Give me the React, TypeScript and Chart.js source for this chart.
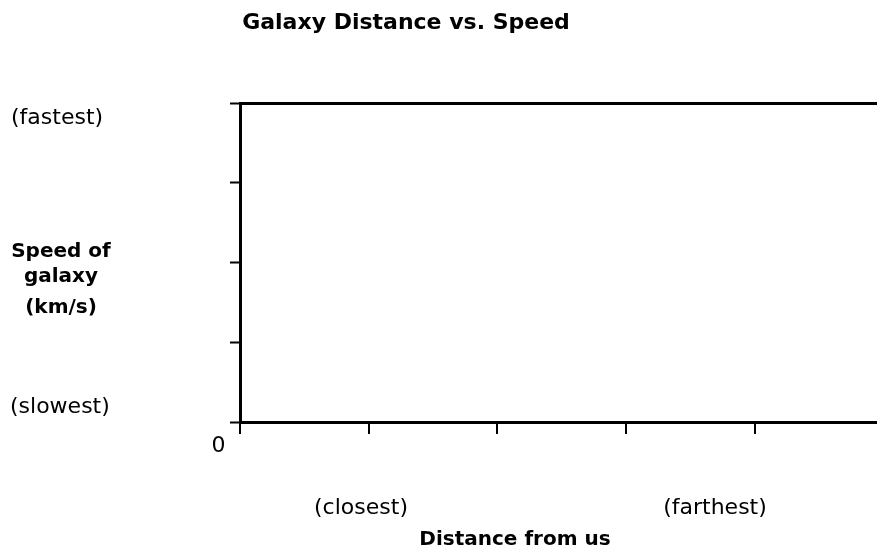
import React, { useEffect, useRef } from "react";
import { Chart, registerables } from "chart.js";

Chart.register(...registerables);

const chartTitle = "Galaxy Distance vs. Speed";
const xAxisTitle = "Distance from us";
const yAxisTitleLines = ["Speed of", "galaxy", "(km/s)"];
const xEndLabels = ["(closest)", "(farthest)"];
const yEndLabels = ["(slowest)", "(fastest)"];
const originLabel = "0";
const xTickValues = [0, 1, 2, 3, 4];
const yTickValues = [0, 1, 2, 3, 4];
const xRange = [0, 4.95];
const yRange = [0, 4];
const galaxyPoints: { x: number; y: number }[] = [];

const FONT = "'DejaVu Sans', sans-serif";

const textPlugin = {
  id: "galaxyText",
  afterDraw(chart: any) {
    const { ctx, chartArea } = chart;
    ctx.save();
    ctx.fillStyle = "#000";
    ctx.textBaseline = "alphabetic";

    ctx.font = `bold 22px ${FONT}`;
    ctx.textAlign = "center";
    ctx.fillText(chartTitle, 406, 29);

    ctx.font = `22px ${FONT}`;
    ctx.textAlign = "left";
    ctx.fillText(yEndLabels[1], 11, chartArea.top + 21);
    ctx.fillText(yEndLabels[0], 10, chartArea.bottom - 9);

    ctx.font = `bold 20px ${FONT}`;
    ctx.textAlign = "center";
    const yBase = [257, 282, 313];
    yAxisTitleLines.forEach((t, i) => ctx.fillText(t, 61, yBase[i]));

    ctx.font = `22px ${FONT}`;
    ctx.textAlign = "center";
    ctx.fillText(originLabel, 218.5, chartArea.bottom + 30);
    ctx.fillText(xEndLabels[0], 361, 514);
    ctx.fillText(xEndLabels[1], 715, 514);

    ctx.font = `bold 20px ${FONT}`;
    ctx.fillText(xAxisTitle, 515, 545);
    ctx.restore();
  },
};

export default function App() {
  const ref = useRef<HTMLCanvasElement>(null);

  useEffect(() => {
    if (!ref.current) return;
    const chart = new Chart(ref.current, {
      type: "scatter",
      data: {
        datasets: [
          {
            label: "Galaxies",
            data: galaxyPoints,
            backgroundColor: "#000",
            pointRadius: 3,
          },
        ],
      },
      options: {
        animation: false,
        responsive: false,
        devicePixelRatio: 1,
        layout: { padding: { top: 103, left: 0, right: 0, bottom: 0 } },
        plugins: {
          legend: { display: false },
          title: { display: false },
          tooltip: { enabled: false },
        },
        scales: {
          x: {
            type: "linear",
            min: xRange[0],
            max: xRange[1],
            afterBuildTicks: (s: any) => {
              s.ticks = xTickValues.map((v) => ({ value: v }));
            },
            afterFit: (s: any) => {
              s.height = 134;
            },
            ticks: { display: false },
            grid: {
              drawOnChartArea: false,
              drawTicks: true,
              tickLength: 12,
              tickColor: "#000",
              tickWidth: 2,
              lineWidth: 2,
              color: "#000",
            },
            border: { display: true, color: "#000", width: 3 },
          },
          y: {
            type: "linear",
            min: yRange[0],
            max: yRange[1],
            afterBuildTicks: (s: any) => {
              s.ticks = yTickValues.map((v) => ({ value: v }));
            },
            afterFit: (s: any) => {
              s.width = 240;
            },
            ticks: { display: false },
            grid: {
              drawOnChartArea: true,
              drawTicks: true,
              tickLength: 10,
              tickColor: "#000",
              tickWidth: 2,
              lineWidth: 3,
              color: (c: any) =>
                c.tick && c.tick.value === yRange[1] ? "#000" : "rgba(0,0,0,0)",
            },
            border: { display: true, color: "#000", width: 3 },
          },
        },
      },
      plugins: [textPlugin],
    });
    return () => chart.destroy();
  }, []);

  return (
    <div style={{ position: "absolute", left: 0, top: 0, width: 877, height: 556, background: "#fff" }}>
      <canvas ref={ref} width={877} height={556} style={{ display: "block" }} />
    </div>
  );
}
